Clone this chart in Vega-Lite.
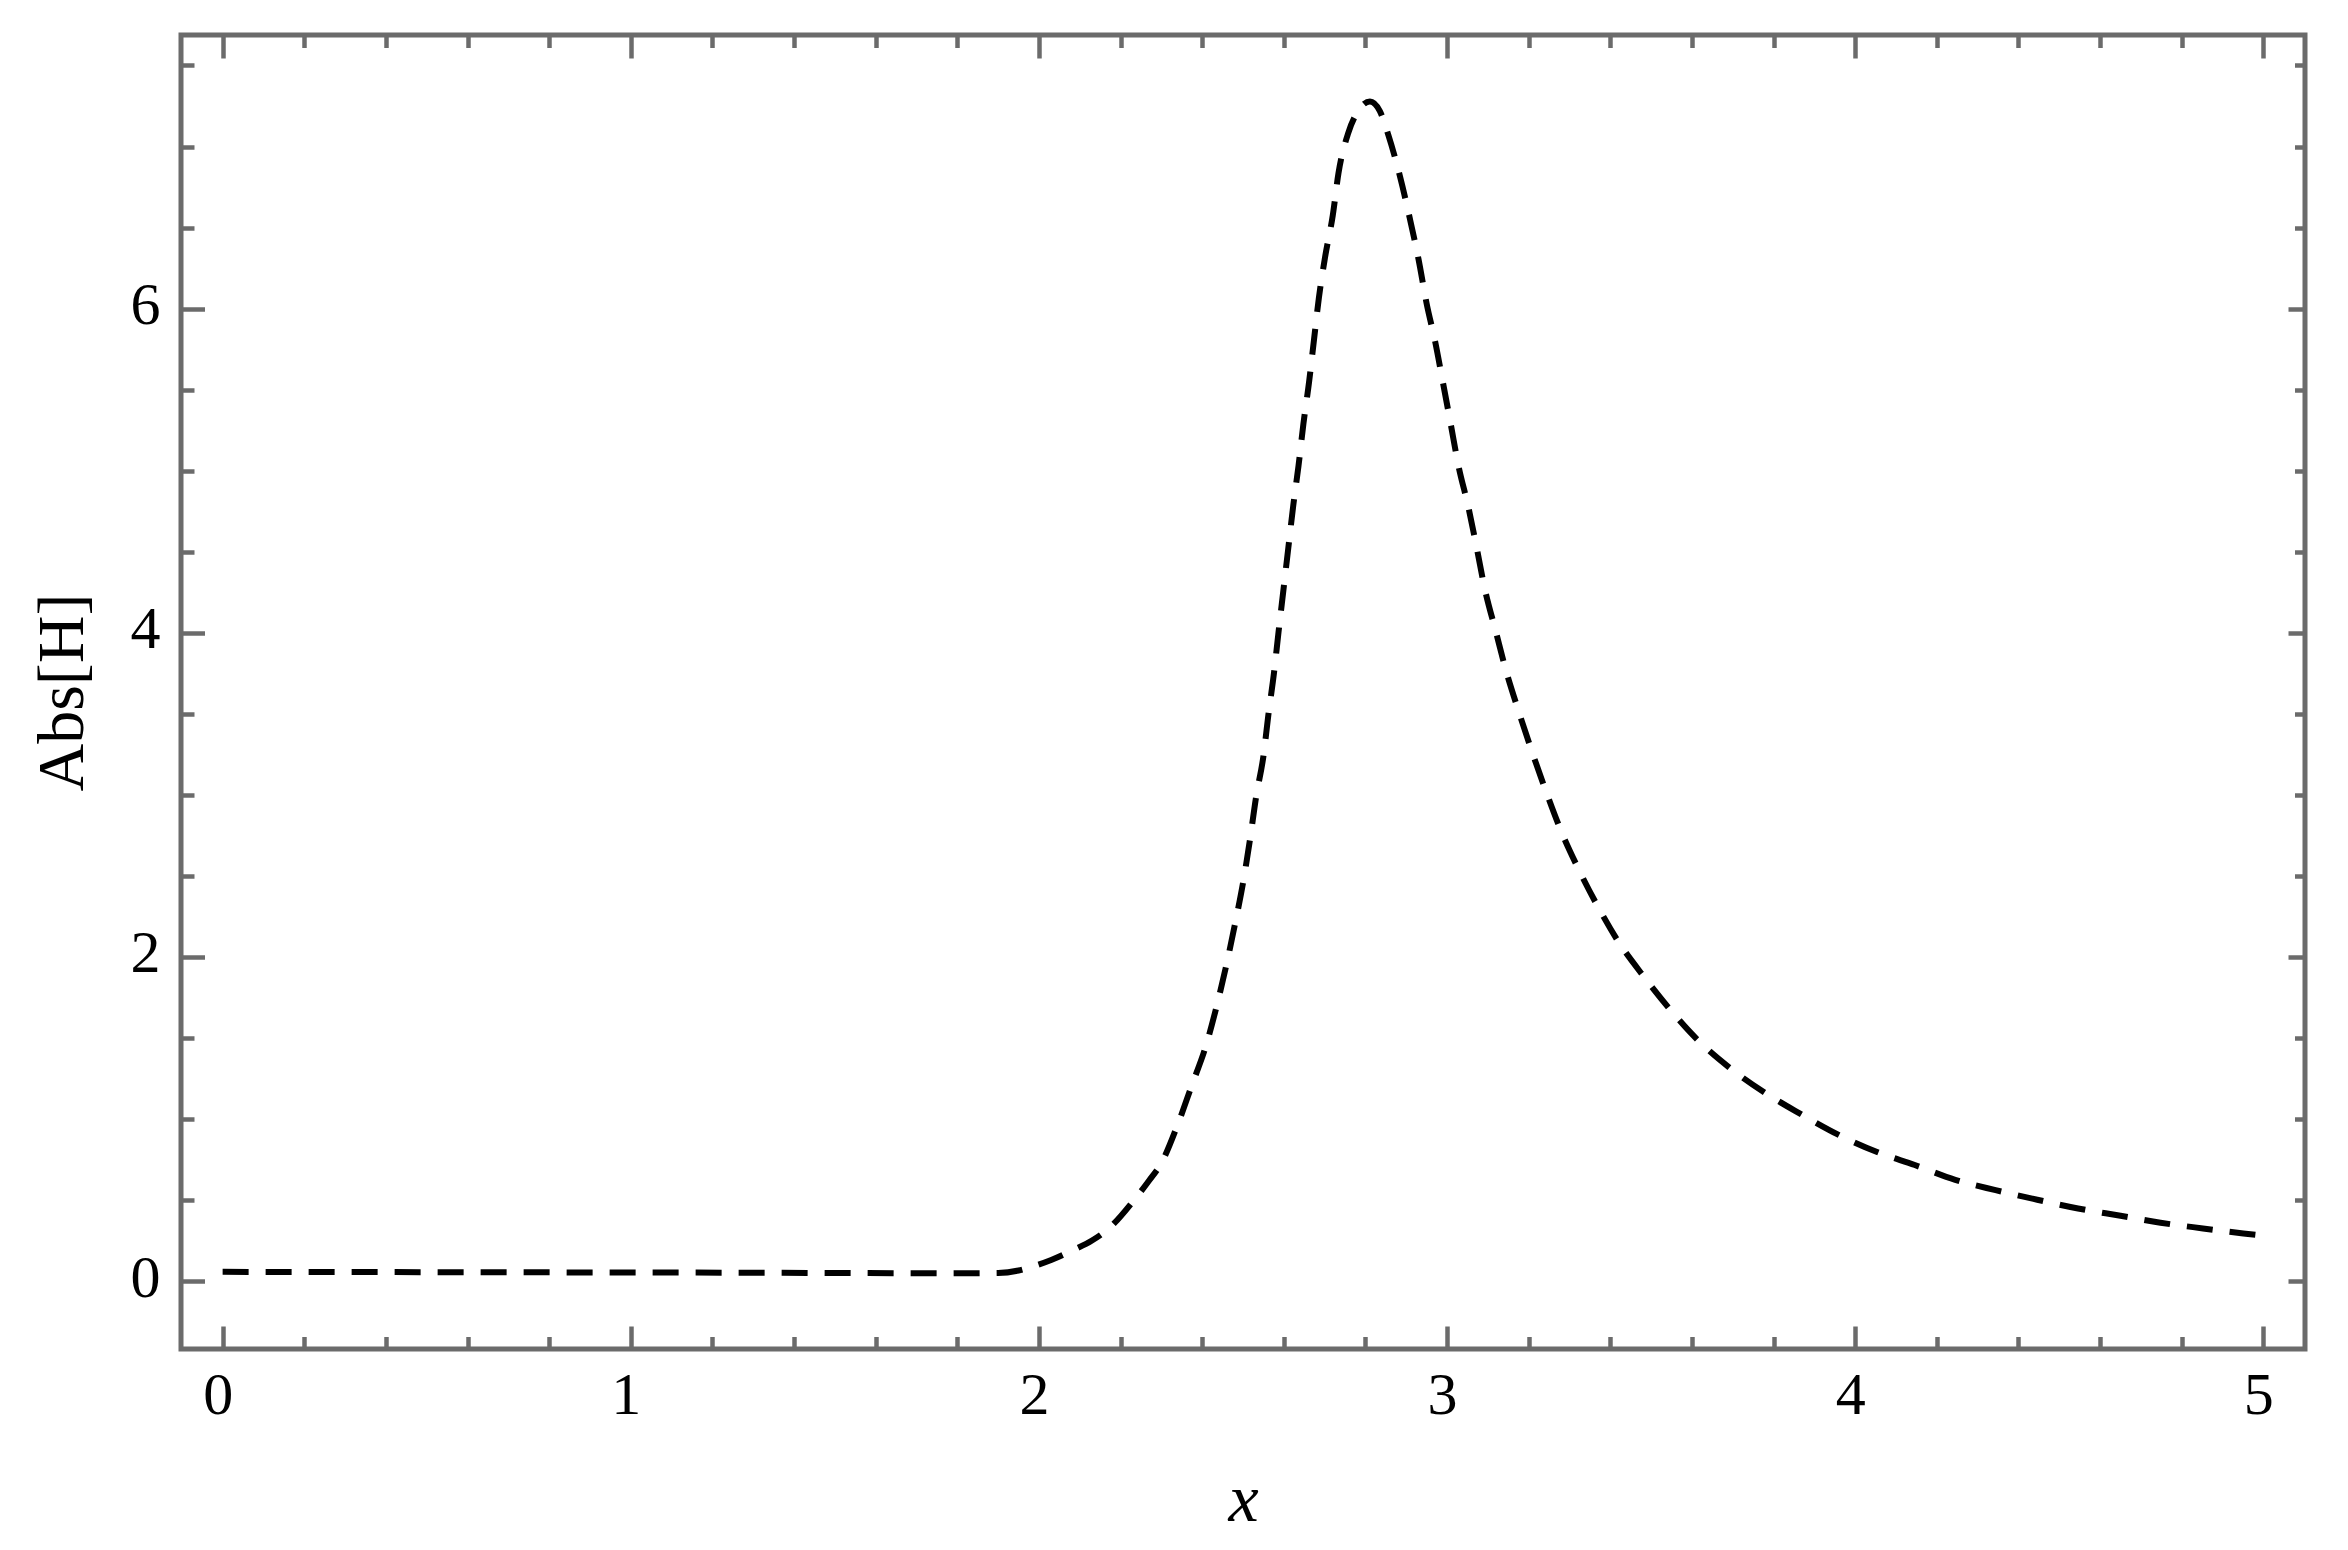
{
  "$schema": "https://vega.github.io/schema/vega-lite/v6.json",
  "width": 2124,
  "height": 1314,
  "autosize": {"type": "none"},
  "padding": {"left": 181, "top": 35, "right": 43, "bottom": 201},
  "background": "white",
  "config": {"view": {"stroke": "#6b6b6b", "strokeWidth": 5}},
  "data": {"values": [
    {"x": 0, "absH": 0.057}, {"x": 0.25, "absH": 0.056}, {"x": 0.5, "absH": 0.055}, {"x": 0.75, "absH": 0.054},
    {"x": 1.0, "absH": 0.053}, {"x": 1.25, "absH": 0.052}, {"x": 1.5, "absH": 0.05}, {"x": 1.75, "absH": 0.048},
    {"x": 1.9, "absH": 0.05}, {"x": 1.95, "absH": 0.065}, {"x": 1.985, "absH": 0.09}, {"x": 2.03, "absH": 0.13},
    {"x": 2.083, "absH": 0.19}, {"x": 2.13, "absH": 0.25}, {"x": 2.17, "absH": 0.322}, {"x": 2.235, "absH": 0.506},
    {"x": 2.27, "absH": 0.62}, {"x": 2.301, "absH": 0.733}, {"x": 2.339, "absH": 0.959}, {"x": 2.374, "absH": 1.204},
    {"x": 2.409, "absH": 1.45}, {"x": 2.436, "absH": 1.702}, {"x": 2.46, "absH": 1.959}, {"x": 2.481, "absH": 2.21},
    {"x": 2.501, "absH": 2.47}, {"x": 2.517, "absH": 2.722}, {"x": 2.532, "absH": 2.986}, {"x": 2.55, "absH": 3.238},
    {"x": 2.562, "absH": 3.49}, {"x": 2.576, "absH": 3.754}, {"x": 2.587, "absH": 4.003}, {"x": 2.599, "absH": 4.263},
    {"x": 2.611, "absH": 4.523}, {"x": 2.623, "absH": 4.782}, {"x": 2.636, "absH": 5.03}, {"x": 2.648, "absH": 5.289},
    {"x": 2.662, "absH": 5.549}, {"x": 2.674, "absH": 5.809}, {"x": 2.686, "absH": 6.068}, {"x": 2.701, "absH": 6.316},
    {"x": 2.72, "absH": 6.576}, {"x": 2.734, "absH": 6.836}, {"x": 2.758, "absH": 7.084}, {"x": 2.785, "absH": 7.23},
    {"x": 2.811, "absH": 7.278}, {"x": 2.835, "absH": 7.22}, {"x": 2.856, "absH": 7.072}, {"x": 2.885, "absH": 6.812},
    {"x": 2.909, "absH": 6.553}, {"x": 2.93, "absH": 6.305}, {"x": 2.95, "absH": 6.03}, {"x": 2.971, "absH": 5.794},
    {"x": 2.99, "absH": 5.542}, {"x": 3.009, "absH": 5.287}, {"x": 3.028, "absH": 5.029}, {"x": 3.052, "absH": 4.777},
    {"x": 3.073, "absH": 4.519}, {"x": 3.093, "absH": 4.264}, {"x": 3.119, "absH": 4.012}, {"x": 3.145, "absH": 3.761},
    {"x": 3.175, "absH": 3.518}, {"x": 3.208, "absH": 3.267}, {"x": 3.242, "absH": 3.024}, {"x": 3.279, "absH": 2.779},
    {"x": 3.322, "absH": 2.542}, {"x": 3.369, "absH": 2.313}, {"x": 3.42, "absH": 2.093}, {"x": 3.481, "absH": 1.882},
    {"x": 3.546, "absH": 1.677}, {"x": 3.614, "absH": 1.488}, {"x": 3.693, "absH": 1.315}, {"x": 3.775, "absH": 1.168},
    {"x": 3.867, "absH": 1.03}, {"x": 3.957, "absH": 0.905}, {"x": 4.052, "absH": 0.798}, {"x": 4.146, "absH": 0.716},
    {"x": 4.245, "absH": 0.625}, {"x": 4.344, "absH": 0.561}, {"x": 4.446, "absH": 0.502}, {"x": 4.546, "absH": 0.448},
    {"x": 4.65, "absH": 0.403}, {"x": 4.748, "absH": 0.36}, {"x": 4.852, "absH": 0.325}, {"x": 4.951, "absH": 0.294},
    {"x": 5.0, "absH": 0.28}
  ]},
  "resolve": {"axis": {"x": "independent", "y": "independent"}},
  "layer": [
    {
      "mark": {"type": "line", "color": "black", "strokeWidth": 6, "strokeDash": [26, 17], "interpolate": "monotone"},
      "encoding": {
        "x": {"field": "x", "type": "quantitative",
          "scale": {"domain": [-0.102, 5.102], "nice": false, "zero": false},
          "axis": {"orient": "bottom", "values": [0, 1, 2, 3, 4, 5], "ticks": false, "domain": false, "grid": false,
            "labelFont": "Liberation Serif", "labelFontSize": 60, "labelColor": "black", "labelPadding": 17, "labelOffset": -5,
            "labelFlush": false, "labelOverlap": false,
            "title": "x", "titleFont": "Liberation Serif", "titleFontSize": 68, "titleFontStyle": "italic", "titleFontWeight": "normal",
            "titleColor": "black", "titleBaseline": "alphabetic", "titleY": 171}},
        "y": {"field": "absH", "type": "quantitative",
          "scale": {"domain": [-0.419, 7.688], "nice": false, "zero": false},
          "axis": {"orient": "left", "values": [0, 2, 4, 6], "ticks": false, "domain": false, "grid": false,
            "labelFont": "Liberation Serif", "labelFontSize": 60, "labelColor": "black", "labelPadding": 21, "labelOffset": -3,
            "labelFlush": false, "labelOverlap": false,
            "title": "Abs[H]", "titleFont": "Liberation Serif", "titleFontSize": 66, "titleFontWeight": "normal",
            "titleColor": "black", "titleBaseline": "alphabetic", "titleX": -99}}
      }
    },
    {
      "mark": {"type": "line", "opacity": 0},
      "encoding": {
        "x": {"field": "x", "type": "quantitative",
          "axis": {"orient": "bottom", "values": [0, 1, 2, 3, 4, 5], "labels": false, "domain": false, "grid": false,
            "ticks": true, "tickSize": -23, "tickWidth": 4.5, "tickColor": "#6b6b6b", "title": null}},
        "y": {"field": "absH", "type": "quantitative",
          "axis": {"orient": "left", "values": [0, 2, 4, 6], "labels": false, "domain": false, "grid": false,
            "ticks": true, "tickSize": -23.5, "tickWidth": 4.5, "tickColor": "#6b6b6b", "title": null}}
      }
    },
    {
      "mark": {"type": "line", "opacity": 0},
      "encoding": {
        "x": {"field": "x", "type": "quantitative",
          "axis": {"orient": "bottom", "values": [0.2, 0.4, 0.6, 0.8, 1.2, 1.4, 1.6, 1.8, 2.2, 2.4, 2.6, 2.8, 3.2, 3.4, 3.6, 3.8, 4.2, 4.4, 4.6, 4.8],
            "labels": false, "domain": false, "grid": false,
            "ticks": true, "tickSize": -12.5, "tickWidth": 4.5, "tickColor": "#6b6b6b", "title": null}},
        "y": {"field": "absH", "type": "quantitative",
          "axis": {"orient": "left", "values": [0.5, 1, 1.5, 2.5, 3, 3.5, 4.5, 5, 5.5, 6.5, 7, 7.5],
            "labels": false, "domain": false, "grid": false,
            "ticks": true, "tickSize": -13, "tickWidth": 4.5, "tickColor": "#6b6b6b", "title": null}}
      }
    },
    {
      "mark": {"type": "line", "opacity": 0},
      "encoding": {
        "x": {"field": "x", "type": "quantitative",
          "axis": {"orient": "top", "values": [0, 1, 2, 3, 4, 5], "labels": false, "domain": false, "grid": false,
            "ticks": true, "tickSize": -23, "tickWidth": 4.5, "tickColor": "#6b6b6b", "title": null}},
        "y": {"field": "absH", "type": "quantitative",
          "axis": {"orient": "right", "values": [0, 2, 4, 6], "labels": false, "domain": false, "grid": false,
            "ticks": true, "tickSize": -17, "tickWidth": 4.5, "tickColor": "#6b6b6b", "title": null}}
      }
    },
    {
      "mark": {"type": "line", "opacity": 0},
      "encoding": {
        "x": {"field": "x", "type": "quantitative",
          "axis": {"orient": "top", "values": [0.2, 0.4, 0.6, 0.8, 1.2, 1.4, 1.6, 1.8, 2.2, 2.4, 2.6, 2.8, 3.2, 3.4, 3.6, 3.8, 4.2, 4.4, 4.6, 4.8],
            "labels": false, "domain": false, "grid": false,
            "ticks": true, "tickSize": -12.5, "tickWidth": 4.5, "tickColor": "#6b6b6b", "title": null}},
        "y": {"field": "absH", "type": "quantitative",
          "axis": {"orient": "right", "values": [0.5, 1, 1.5, 2.5, 3, 3.5, 4.5, 5, 5.5, 6.5, 7, 7.5],
            "labels": false, "domain": false, "grid": false,
            "ticks": true, "tickSize": -10.5, "tickWidth": 4.5, "tickColor": "#6b6b6b", "title": null}}
      }
    }
  ]
}
